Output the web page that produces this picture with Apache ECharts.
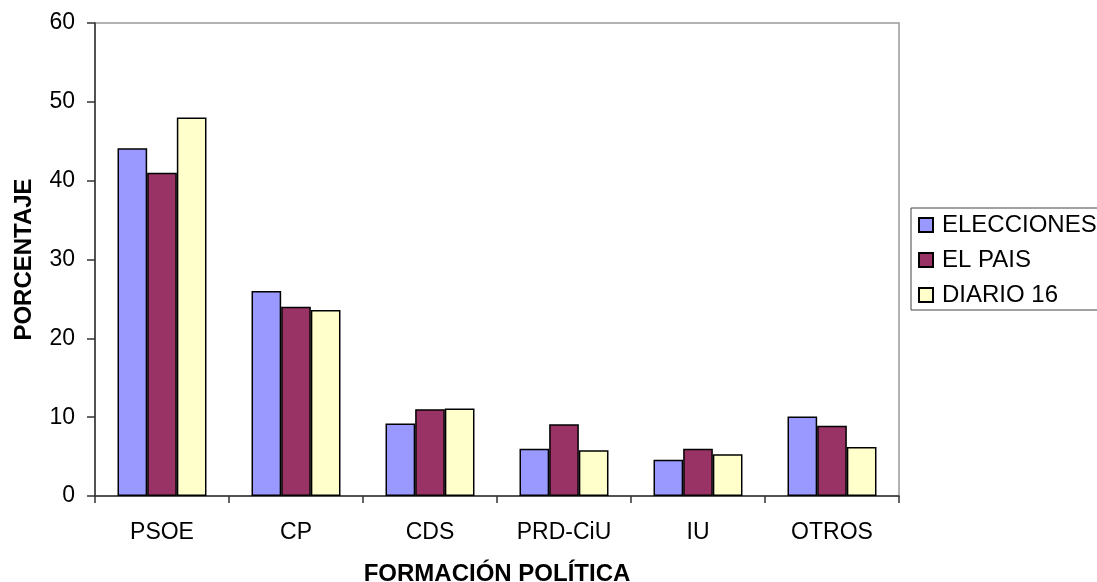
<!DOCTYPE html>
<html>
<head>
<meta charset="utf-8">
<script src="https://cdn.jsdelivr.net/npm/echarts@6/dist/echarts.min.js"></script>
<style>html,body{margin:0;padding:0;background:#fff;}#c{width:1097px;height:582px;}</style>
</head>
<body>
<div id="c"></div>
<script>
var categories = ['PSOE', 'CP', 'CDS', 'PRD-CiU', 'IU', 'OTROS'];
var elecciones = [44.1, 26.0, 9.2, 6.0, 4.6, 10.1];
var elPais = [41.0, 24.0, 11.0, 9.1, 6.0, 8.9];
var diario16 = [48.0, 23.6, 11.1, 5.8, 5.3, 6.2];
var seriesNames = ['ELECCIONES', 'EL PAIS', 'DIARIO 16'];
var seriesColors = ['#9999FF', '#993366', '#FFFFCC'];
var yTicks = [0, 10, 20, 30, 40, 50, 60];

var font = '"Liberation Sans", Arial, sans-serif';
var chart = echarts.init(document.getElementById('c'), null, {renderer: 'canvas'});
var dataSets = [elecciones, elPais, diario16];
chart.setOption({
  animation: false,
  backgroundColor: '#fff',
  grid: {left: 95, top: 23, right: 198, bottom: 86, containLabel: false, outerBoundsMode: 'none',
    show: true, borderColor: '#999', borderWidth: 1.5, backgroundColor: 'transparent'},
  legend: {
    orient: 'vertical', left: 911, top: 208,
    data: seriesNames,
    itemWidth: 14, itemHeight: 14, itemGap: 11,
    padding: [5, 5, 3, 7],
    borderColor: '#444', borderWidth: 1,
    textStyle: {fontFamily: font, fontSize: 24, color: '#000', padding: [0, 0, 0, 4]},
    icon: 'rect'
  },
  xAxis: {
    type: 'category', data: categories,
    name: 'FORMACIÓN POLÍTICA', nameLocation: 'middle', nameGap: 66,
    nameTextStyle: {fontFamily: font, fontSize: 24, fontWeight: 'bold', color: '#000'},
    axisLine: {lineStyle: {color: '#333', width: 1.5}},
    axisTick: {show: true, length: 7, lineStyle: {color: '#333', width: 1.5}},
    axisLabel: {fontFamily: font, fontSize: 23, color: '#000', margin: 25}
  },
  yAxis: {
    type: 'value', min: 0, max: 60, interval: 10,
    name: 'PORCENTAJE', nameLocation: 'middle', nameGap: 59,
    nameTextStyle: {fontFamily: font, fontSize: 24, fontWeight: 'bold', color: '#000'},
    axisLine: {show: true, lineStyle: {color: '#333', width: 1.5}},
    axisTick: {show: true, length: 8, lineStyle: {color: '#333', width: 1.5}},
    axisLabel: {fontFamily: font, fontSize: 23, color: '#000', margin: 20,
      formatter: function (v) { return yTicks.indexOf(v) >= 0 ? String(v) : ''; }},
    splitLine: {show: false}
  },
  series: seriesNames.map(function (n, i) {
    return {
      name: n, type: 'bar', data: dataSets[i],
      barGap: '0%', barCategoryGap: '33.6%',
      itemStyle: {color: seriesColors[i], borderColor: '#000', borderWidth: 1.5}
    };
  })
});
</script>
</body>
</html>
